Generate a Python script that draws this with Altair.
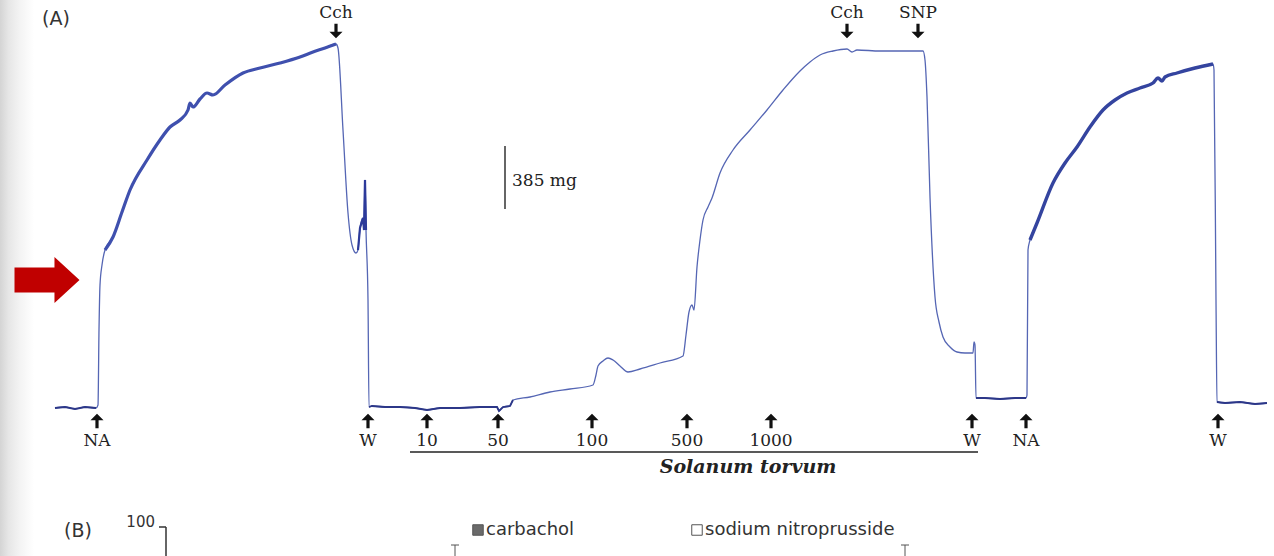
import altair as alt
import pandas as pd

W, H = 1274, 556

# ---- isometric tension trace (time units, pen position read from the record) ----
trace_time = [55, 65, 75, 85, 96, 98, 99, 100, 102, 105, 113, 122, 130, 147, 160, 170, 180, 188, 190, 193,
              200, 207, 213, 225, 243, 260, 280, 300, 313, 325, 336,
              338, 343, 348, 352, 356, 358, 360, 363, 364, 365, 366, 368, 369,
              372, 385, 400, 415, 427, 440, 460, 480, 497, 499, 503, 510, 513, 530, 550, 570, 593,
              596, 598, 603, 608, 613, 620, 628, 640, 660, 683, 686, 689, 692, 694, 697, 700, 703, 708,
              712, 720, 733, 750, 767, 783, 800, 810, 820, 833, 847, 852, 857, 880, 923,
              925, 927, 930, 935, 939, 943, 950, 957, 965, 973, 974, 975, 976,
              985, 1000, 1015, 1026,
              1027, 1028, 1030, 1037, 1053, 1065, 1077, 1090, 1103, 1115, 1127, 1140, 1153, 1158, 1162,
              1165, 1177, 1195, 1213,
              1214, 1216, 1217, 1225, 1240, 1255, 1267]
trace_pos = [408, 407, 409, 407, 408, 405, 330, 285, 265, 250, 237, 212, 190, 160, 140, 127, 120, 110, 103, 107,
             99, 93, 95, 85, 73, 68, 63, 57, 52, 48, 44,
             48, 130, 213, 245, 253, 250, 228, 218, 230, 180, 230, 300, 407,
             406, 407, 407, 408, 410, 408, 408, 407, 407, 411, 407, 406, 400, 397, 392, 389, 385,
             375, 366, 361, 358, 360, 366, 372, 369, 363, 356, 335, 312, 305, 310, 267, 240, 220, 207,
             198, 173, 150, 130, 110, 90, 71, 62, 55, 51, 49, 52, 50, 51, 51,
             60, 97, 197, 297, 322, 337, 347, 352, 353, 353, 342, 345, 398,
             398, 399, 398, 398,
             395, 250, 240, 223, 183, 163, 147, 127, 110, 100, 93, 88, 83, 78, 81,
             77, 73, 68, 64,
             70, 300, 402, 403, 402, 404, 403]

# ---- drug additions ----
up_names = ["NA", "W", "10", "50", "100", "500", "1000", "W", "NA", "W"]
up_times = [97, 368, 427, 498, 592, 687, 771, 972, 1026, 1218]
down_names = ["Cch", "Cch", "SNP"]
down_times = [336, 847, 918]

# ---- panel (B) legend ----
leg_names = ["carbachol", "sodium nitroprusside"]
leg_fill = ["#6a6a6a", "#ffffff"]

trace = pd.DataFrame({"t": trace_time, "pos": trace_pos})
ups = pd.DataFrame({"t": up_times, "label": up_names})
downs = pd.DataFrame({"t": down_times, "label": down_names})

xs = alt.Scale(domain=[0, W], nice=False, zero=False)
ys = alt.Scale(domain=[0, H], nice=False, zero=False, reverse=True)
X = alt.X("t:Q", scale=xs, axis=None)
Y = alt.Y("pos:Q", scale=ys, axis=None)

UP = "M0,-1L0.9,-0.1L0.22,-0.1L0.22,1L-0.22,1L-0.22,-0.1L-0.9,-0.1Z"
DOWN = "M0,1L0.9,0.1L0.22,0.1L0.22,-1L-0.22,-1L-0.22,0.1L-0.9,0.1Z"
RED = "M-1,-0.385L0.23,-0.385L0.23,-0.707L1,0L0.23,0.707L0.23,0.385L-1,0.385Z"

SERIF = "DejaVu Serif"
SANS = "DejaVu Sans"
one = pd.DataFrame({"k": [0]})

base = alt.Chart(trace)

shadow = alt.Chart(one).mark_rect(
    color=alt.Gradient(gradient="linear",
                       stops=[alt.GradientStop(offset=0, color="#d4d4d4"),
                              alt.GradientStop(offset=0.25, color="#e6e6e6"),
                              alt.GradientStop(offset=0.6, color="#f4f4f4"),
                              alt.GradientStop(offset=1, color="#ffffff")],
                       x1=0, x2=1, y1=0, y2=0)
).encode(x=alt.value(0), x2=alt.value(34), y=alt.value(0), y2=alt.value(H))

thin = base.mark_line(color="#5566b4", strokeWidth=1.3, interpolate="monotone").encode(X, Y, order="t:Q")
thick1 = base.transform_filter("datum.t >= 104 && datum.t <= 337").mark_line(
    color="#3f50ae", strokeWidth=3.2, interpolate="monotone").encode(X, Y, order="t:Q")
thick2 = base.transform_filter("datum.t >= 1029 && datum.t <= 1213").mark_line(
    color="#34449f", strokeWidth=3.4, interpolate="monotone").encode(X, Y, order="t:Q")
navy = base.transform_filter(
    "(datum.t <= 97) || (datum.t >= 369 && datum.t <= 513) || (datum.t >= 976 && datum.t <= 1026) || datum.t >= 1217"
).transform_calculate(
    seg="datum.t <= 97 ? 'a' : datum.t <= 513 ? 'b' : datum.t <= 1026 ? 'c' : 'd'"
).mark_line(color="#2c3788", strokeWidth=1.8).encode(X, Y, detail="seg:N", order="t:Q")
blip = base.transform_filter("datum.t >= 358 && datum.t <= 366").mark_line(
    color="#2c3a9a", strokeWidth=2.2).encode(X, Y, order="t:Q")

up_arrows = alt.Chart(ups).mark_point(shape=UP, filled=True, size=210, color="#111111", opacity=1).encode(
    x=X, y=alt.value(421))
up_labels = alt.Chart(ups).mark_text(font=SERIF, fontSize=17, color="#222222", baseline="middle").encode(
    x=X, y=alt.value(441), text="label:N")
down_arrows = alt.Chart(downs).mark_point(shape=DOWN, filled=True, size=210, color="#111111", opacity=1).encode(
    x=X, y=alt.value(31))
down_labels = alt.Chart(downs).mark_text(font=SERIF, fontSize=17, color="#222222", baseline="middle").encode(
    x=X, y=alt.value(13), text="label:N")

scale_bar = alt.Chart(one).mark_rule(color="#333333", strokeWidth=1.5).encode(
    x=alt.datum(505, scale=xs), y=alt.datum(146, scale=ys), y2=alt.datum(209))
scale_txt = alt.Chart(one).mark_text(
    font=SERIF, fontSize=17, align="left", baseline="middle", color="#222222").encode(
    x=alt.datum(512, scale=xs), y=alt.datum(181, scale=ys), text=alt.value("385 mg"))

sol_line = alt.Chart(one).mark_rule(color="#222222", strokeWidth=1.3).encode(
    x=alt.datum(410, scale=xs), x2=alt.datum(978), y=alt.datum(452, scale=ys))
sol_txt = alt.Chart(one).mark_text(
    font=SERIF, fontSize=19, fontStyle="italic", fontWeight="bold", color="#222222", baseline="middle").encode(
    x=alt.datum(748, scale=xs), y=alt.datum(467, scale=ys), text=alt.value("Solanum torvum"))

panel_a = alt.Chart(one).mark_text(
    font=SANS, fontSize=19, color="#333333", align="left", baseline="middle").encode(
    x=alt.value(42), y=alt.value(19), text=alt.value("(A)"))

red_arrow = alt.Chart(one).mark_point(
    shape=RED, size=4225, filled=True, color="#c00000", opacity=1).encode(
    x=alt.value(47), y=alt.value(280))

b_label = alt.Chart(one).mark_text(
    font=SANS, fontSize=19, color="#333333", align="left", baseline="middle").encode(
    x=alt.value(64), y=alt.value(531), text=alt.value("(B)"))
b_100 = alt.Chart(one).mark_text(
    font=SANS, fontSize=15, color="#333333", align="right", baseline="middle").encode(
    x=alt.value(155), y=alt.value(522), text=alt.value("100"))
b_axis = alt.Chart(one).mark_rule(color="#333333", strokeWidth=1.5).encode(
    x=alt.value(166), y=alt.value(527), y2=alt.value(H))
b_tick = alt.Chart(one).mark_rule(color="#333333", strokeWidth=1.5).encode(
    x=alt.value(159), x2=alt.value(166), y=alt.value(527))

legend_layers = []
for name, fill, sx in zip(leg_names, leg_fill, [478, 697]):
    legend_layers.append(alt.Chart(one).mark_square(
        size=110, fill=fill, stroke="#555555", strokeWidth=1, opacity=1).encode(
        x=alt.value(sx), y=alt.value(530)))
    legend_layers.append(alt.Chart(one).mark_text(
        font=SANS, fontSize=18, color="#333333", align="left", baseline="middle").encode(
        x=alt.value(sx + 8), y=alt.value(530), text=alt.value(name)))

err_layers = []
for ex in [455, 905]:
    err_layers.append(alt.Chart(one).mark_rule(color="#555555", strokeWidth=1).encode(
        x=alt.value(ex), y=alt.value(545), y2=alt.value(H)))
    err_layers.append(alt.Chart(one).mark_rule(color="#555555", strokeWidth=1).encode(
        x=alt.value(ex - 4), x2=alt.value(ex + 4), y=alt.value(545)))

chart = alt.layer(
    shadow, thin, navy, thick1, thick2, blip,
    up_arrows, up_labels, down_arrows, down_labels,
    scale_bar, scale_txt, sol_line, sol_txt, panel_a, red_arrow,
    b_label, b_100, b_axis, b_tick, *legend_layers, *err_layers
).properties(
    width=W, height=H, padding=0, autosize=alt.AutoSizeParams(type="none"), background="white"
).configure_view(stroke=None)

chart.save("out.html", embed_options={"renderer": "svg", "actions": False})
